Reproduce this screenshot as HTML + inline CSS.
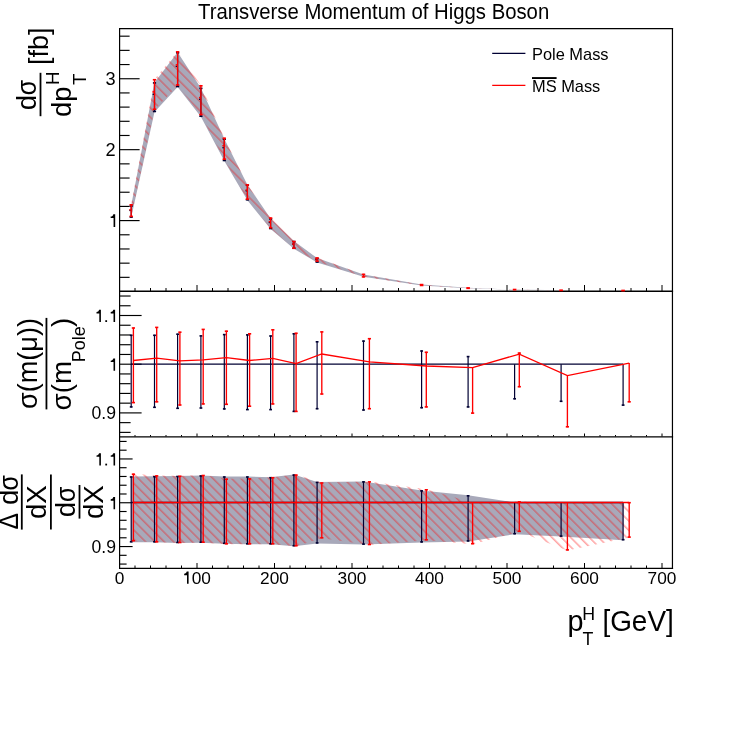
<!DOCTYPE html><html><head><meta charset="utf-8"><style>html,body{margin:0;padding:0;background:#fff;}svg{display:block;will-change:transform;}text{font-family:"Liberation Sans",sans-serif;fill:#000;}</style></head><body>
<svg width="747" height="729" viewBox="0 0 747 729">
<rect width="747" height="729" fill="#fff"/>
<defs><pattern id="hatch" patternUnits="userSpaceOnUse" width="6.6" height="6.6" patternTransform="rotate(-45)"><line x1="3.65" y1="-1" x2="3.65" y2="7.6" stroke="rgba(255,0,0,0.42)" stroke-width="1.3"/></pattern></defs>
<line x1="119.60" y1="28.00" x2="119.60" y2="568.90" stroke="#000" stroke-width="1.2"/>
<line x1="119.00" y1="28.60" x2="673.10" y2="28.60" stroke="#000" stroke-width="1.2"/>
<line x1="672.45" y1="28.00" x2="672.45" y2="568.90" stroke="#000" stroke-width="1.2"/>
<line x1="119.00" y1="291.25" x2="673.10" y2="291.25" stroke="#000" stroke-width="1.3"/>
<line x1="119.00" y1="436.90" x2="673.10" y2="436.90" stroke="#000" stroke-width="1.3"/>
<line x1="119.00" y1="568.30" x2="673.10" y2="568.30" stroke="#000" stroke-width="1.3"/>
<line x1="119.60" y1="277.34" x2="129.60" y2="277.34" stroke="#000" stroke-width="1.15"/>
<line x1="119.60" y1="263.16" x2="129.60" y2="263.16" stroke="#000" stroke-width="1.15"/>
<line x1="119.60" y1="248.97" x2="129.60" y2="248.97" stroke="#000" stroke-width="1.15"/>
<line x1="119.60" y1="234.79" x2="129.60" y2="234.79" stroke="#000" stroke-width="1.15"/>
<line x1="119.60" y1="220.60" x2="139.60" y2="220.60" stroke="#000" stroke-width="1.15"/>
<line x1="119.60" y1="206.41" x2="129.60" y2="206.41" stroke="#000" stroke-width="1.15"/>
<line x1="119.60" y1="192.23" x2="129.60" y2="192.23" stroke="#000" stroke-width="1.15"/>
<line x1="119.60" y1="178.04" x2="129.60" y2="178.04" stroke="#000" stroke-width="1.15"/>
<line x1="119.60" y1="163.86" x2="129.60" y2="163.86" stroke="#000" stroke-width="1.15"/>
<line x1="119.60" y1="149.67" x2="139.60" y2="149.67" stroke="#000" stroke-width="1.15"/>
<line x1="119.60" y1="135.48" x2="129.60" y2="135.48" stroke="#000" stroke-width="1.15"/>
<line x1="119.60" y1="121.30" x2="129.60" y2="121.30" stroke="#000" stroke-width="1.15"/>
<line x1="119.60" y1="107.11" x2="129.60" y2="107.11" stroke="#000" stroke-width="1.15"/>
<line x1="119.60" y1="92.93" x2="129.60" y2="92.93" stroke="#000" stroke-width="1.15"/>
<line x1="119.60" y1="78.74" x2="139.60" y2="78.74" stroke="#000" stroke-width="1.15"/>
<line x1="119.60" y1="64.55" x2="129.60" y2="64.55" stroke="#000" stroke-width="1.15"/>
<line x1="119.60" y1="50.37" x2="129.60" y2="50.37" stroke="#000" stroke-width="1.15"/>
<line x1="119.60" y1="36.18" x2="129.60" y2="36.18" stroke="#000" stroke-width="1.15"/>
<line x1="119.60" y1="432.38" x2="130.60" y2="432.38" stroke="#000" stroke-width="1.15"/>
<line x1="119.60" y1="422.64" x2="130.60" y2="422.64" stroke="#000" stroke-width="1.15"/>
<line x1="119.60" y1="412.90" x2="141.60" y2="412.90" stroke="#000" stroke-width="1.15"/>
<line x1="119.60" y1="403.16" x2="130.60" y2="403.16" stroke="#000" stroke-width="1.15"/>
<line x1="119.60" y1="393.42" x2="130.60" y2="393.42" stroke="#000" stroke-width="1.15"/>
<line x1="119.60" y1="383.68" x2="130.60" y2="383.68" stroke="#000" stroke-width="1.15"/>
<line x1="119.60" y1="373.94" x2="130.60" y2="373.94" stroke="#000" stroke-width="1.15"/>
<line x1="119.60" y1="364.20" x2="141.60" y2="364.20" stroke="#000" stroke-width="1.15"/>
<line x1="119.60" y1="354.46" x2="130.60" y2="354.46" stroke="#000" stroke-width="1.15"/>
<line x1="119.60" y1="344.72" x2="130.60" y2="344.72" stroke="#000" stroke-width="1.15"/>
<line x1="119.60" y1="334.98" x2="130.60" y2="334.98" stroke="#000" stroke-width="1.15"/>
<line x1="119.60" y1="325.24" x2="130.60" y2="325.24" stroke="#000" stroke-width="1.15"/>
<line x1="119.60" y1="315.50" x2="141.60" y2="315.50" stroke="#000" stroke-width="1.15"/>
<line x1="119.60" y1="305.76" x2="130.60" y2="305.76" stroke="#000" stroke-width="1.15"/>
<line x1="119.60" y1="296.02" x2="130.60" y2="296.02" stroke="#000" stroke-width="1.15"/>
<line x1="119.60" y1="564.07" x2="126.60" y2="564.07" stroke="#000" stroke-width="1.15"/>
<line x1="119.60" y1="555.31" x2="126.60" y2="555.31" stroke="#000" stroke-width="1.15"/>
<line x1="119.60" y1="546.55" x2="132.60" y2="546.55" stroke="#000" stroke-width="1.15"/>
<line x1="119.60" y1="537.79" x2="126.60" y2="537.79" stroke="#000" stroke-width="1.15"/>
<line x1="119.60" y1="529.03" x2="126.60" y2="529.03" stroke="#000" stroke-width="1.15"/>
<line x1="119.60" y1="520.27" x2="126.60" y2="520.27" stroke="#000" stroke-width="1.15"/>
<line x1="119.60" y1="511.51" x2="126.60" y2="511.51" stroke="#000" stroke-width="1.15"/>
<line x1="119.60" y1="502.75" x2="132.60" y2="502.75" stroke="#000" stroke-width="1.15"/>
<line x1="119.60" y1="493.99" x2="126.60" y2="493.99" stroke="#000" stroke-width="1.15"/>
<line x1="119.60" y1="485.23" x2="126.60" y2="485.23" stroke="#000" stroke-width="1.15"/>
<line x1="119.60" y1="476.47" x2="126.60" y2="476.47" stroke="#000" stroke-width="1.15"/>
<line x1="119.60" y1="467.71" x2="126.60" y2="467.71" stroke="#000" stroke-width="1.15"/>
<line x1="119.60" y1="458.95" x2="132.60" y2="458.95" stroke="#000" stroke-width="1.15"/>
<line x1="119.60" y1="450.19" x2="126.60" y2="450.19" stroke="#000" stroke-width="1.15"/>
<line x1="119.60" y1="441.43" x2="126.60" y2="441.43" stroke="#000" stroke-width="1.15"/>
<line x1="135.00" y1="291.00" x2="135.00" y2="288.00" stroke="#000" stroke-width="1.0"/>
<line x1="135.00" y1="436.50" x2="135.00" y2="435.00" stroke="#000" stroke-width="1.0"/>
<line x1="135.00" y1="568.00" x2="135.00" y2="565.50" stroke="#000" stroke-width="1.0"/>
<line x1="150.50" y1="291.00" x2="150.50" y2="288.00" stroke="#000" stroke-width="1.0"/>
<line x1="150.50" y1="436.50" x2="150.50" y2="435.00" stroke="#000" stroke-width="1.0"/>
<line x1="150.50" y1="568.00" x2="150.50" y2="565.50" stroke="#000" stroke-width="1.0"/>
<line x1="166.00" y1="291.00" x2="166.00" y2="288.00" stroke="#000" stroke-width="1.0"/>
<line x1="166.00" y1="436.50" x2="166.00" y2="435.00" stroke="#000" stroke-width="1.0"/>
<line x1="166.00" y1="568.00" x2="166.00" y2="565.50" stroke="#000" stroke-width="1.0"/>
<line x1="181.50" y1="291.00" x2="181.50" y2="288.00" stroke="#000" stroke-width="1.0"/>
<line x1="181.50" y1="436.50" x2="181.50" y2="435.00" stroke="#000" stroke-width="1.0"/>
<line x1="181.50" y1="568.00" x2="181.50" y2="565.50" stroke="#000" stroke-width="1.0"/>
<line x1="197.00" y1="291.00" x2="197.00" y2="285.00" stroke="#000" stroke-width="1.0"/>
<line x1="197.00" y1="436.50" x2="197.00" y2="433.50" stroke="#000" stroke-width="1.0"/>
<line x1="197.00" y1="568.00" x2="197.00" y2="563.00" stroke="#000" stroke-width="1.0"/>
<line x1="212.50" y1="291.00" x2="212.50" y2="288.00" stroke="#000" stroke-width="1.0"/>
<line x1="212.50" y1="436.50" x2="212.50" y2="435.00" stroke="#000" stroke-width="1.0"/>
<line x1="212.50" y1="568.00" x2="212.50" y2="565.50" stroke="#000" stroke-width="1.0"/>
<line x1="228.00" y1="291.00" x2="228.00" y2="288.00" stroke="#000" stroke-width="1.0"/>
<line x1="228.00" y1="436.50" x2="228.00" y2="435.00" stroke="#000" stroke-width="1.0"/>
<line x1="228.00" y1="568.00" x2="228.00" y2="565.50" stroke="#000" stroke-width="1.0"/>
<line x1="243.50" y1="291.00" x2="243.50" y2="288.00" stroke="#000" stroke-width="1.0"/>
<line x1="243.50" y1="436.50" x2="243.50" y2="435.00" stroke="#000" stroke-width="1.0"/>
<line x1="243.50" y1="568.00" x2="243.50" y2="565.50" stroke="#000" stroke-width="1.0"/>
<line x1="259.00" y1="291.00" x2="259.00" y2="288.00" stroke="#000" stroke-width="1.0"/>
<line x1="259.00" y1="436.50" x2="259.00" y2="435.00" stroke="#000" stroke-width="1.0"/>
<line x1="259.00" y1="568.00" x2="259.00" y2="565.50" stroke="#000" stroke-width="1.0"/>
<line x1="274.50" y1="291.00" x2="274.50" y2="285.00" stroke="#000" stroke-width="1.0"/>
<line x1="274.50" y1="436.50" x2="274.50" y2="433.50" stroke="#000" stroke-width="1.0"/>
<line x1="274.50" y1="568.00" x2="274.50" y2="563.00" stroke="#000" stroke-width="1.0"/>
<line x1="290.00" y1="291.00" x2="290.00" y2="288.00" stroke="#000" stroke-width="1.0"/>
<line x1="290.00" y1="436.50" x2="290.00" y2="435.00" stroke="#000" stroke-width="1.0"/>
<line x1="290.00" y1="568.00" x2="290.00" y2="565.50" stroke="#000" stroke-width="1.0"/>
<line x1="305.50" y1="291.00" x2="305.50" y2="288.00" stroke="#000" stroke-width="1.0"/>
<line x1="305.50" y1="436.50" x2="305.50" y2="435.00" stroke="#000" stroke-width="1.0"/>
<line x1="305.50" y1="568.00" x2="305.50" y2="565.50" stroke="#000" stroke-width="1.0"/>
<line x1="321.00" y1="291.00" x2="321.00" y2="288.00" stroke="#000" stroke-width="1.0"/>
<line x1="321.00" y1="436.50" x2="321.00" y2="435.00" stroke="#000" stroke-width="1.0"/>
<line x1="321.00" y1="568.00" x2="321.00" y2="565.50" stroke="#000" stroke-width="1.0"/>
<line x1="336.50" y1="291.00" x2="336.50" y2="288.00" stroke="#000" stroke-width="1.0"/>
<line x1="336.50" y1="436.50" x2="336.50" y2="435.00" stroke="#000" stroke-width="1.0"/>
<line x1="336.50" y1="568.00" x2="336.50" y2="565.50" stroke="#000" stroke-width="1.0"/>
<line x1="352.00" y1="291.00" x2="352.00" y2="285.00" stroke="#000" stroke-width="1.0"/>
<line x1="352.00" y1="436.50" x2="352.00" y2="433.50" stroke="#000" stroke-width="1.0"/>
<line x1="352.00" y1="568.00" x2="352.00" y2="563.00" stroke="#000" stroke-width="1.0"/>
<line x1="367.50" y1="291.00" x2="367.50" y2="288.00" stroke="#000" stroke-width="1.0"/>
<line x1="367.50" y1="436.50" x2="367.50" y2="435.00" stroke="#000" stroke-width="1.0"/>
<line x1="367.50" y1="568.00" x2="367.50" y2="565.50" stroke="#000" stroke-width="1.0"/>
<line x1="383.00" y1="291.00" x2="383.00" y2="288.00" stroke="#000" stroke-width="1.0"/>
<line x1="383.00" y1="436.50" x2="383.00" y2="435.00" stroke="#000" stroke-width="1.0"/>
<line x1="383.00" y1="568.00" x2="383.00" y2="565.50" stroke="#000" stroke-width="1.0"/>
<line x1="398.50" y1="291.00" x2="398.50" y2="288.00" stroke="#000" stroke-width="1.0"/>
<line x1="398.50" y1="436.50" x2="398.50" y2="435.00" stroke="#000" stroke-width="1.0"/>
<line x1="398.50" y1="568.00" x2="398.50" y2="565.50" stroke="#000" stroke-width="1.0"/>
<line x1="414.00" y1="291.00" x2="414.00" y2="288.00" stroke="#000" stroke-width="1.0"/>
<line x1="414.00" y1="436.50" x2="414.00" y2="435.00" stroke="#000" stroke-width="1.0"/>
<line x1="414.00" y1="568.00" x2="414.00" y2="565.50" stroke="#000" stroke-width="1.0"/>
<line x1="429.50" y1="291.00" x2="429.50" y2="285.00" stroke="#000" stroke-width="1.0"/>
<line x1="429.50" y1="436.50" x2="429.50" y2="433.50" stroke="#000" stroke-width="1.0"/>
<line x1="429.50" y1="568.00" x2="429.50" y2="563.00" stroke="#000" stroke-width="1.0"/>
<line x1="445.00" y1="291.00" x2="445.00" y2="288.00" stroke="#000" stroke-width="1.0"/>
<line x1="445.00" y1="436.50" x2="445.00" y2="435.00" stroke="#000" stroke-width="1.0"/>
<line x1="445.00" y1="568.00" x2="445.00" y2="565.50" stroke="#000" stroke-width="1.0"/>
<line x1="460.50" y1="291.00" x2="460.50" y2="288.00" stroke="#000" stroke-width="1.0"/>
<line x1="460.50" y1="436.50" x2="460.50" y2="435.00" stroke="#000" stroke-width="1.0"/>
<line x1="460.50" y1="568.00" x2="460.50" y2="565.50" stroke="#000" stroke-width="1.0"/>
<line x1="476.00" y1="291.00" x2="476.00" y2="288.00" stroke="#000" stroke-width="1.0"/>
<line x1="476.00" y1="436.50" x2="476.00" y2="435.00" stroke="#000" stroke-width="1.0"/>
<line x1="476.00" y1="568.00" x2="476.00" y2="565.50" stroke="#000" stroke-width="1.0"/>
<line x1="491.50" y1="291.00" x2="491.50" y2="288.00" stroke="#000" stroke-width="1.0"/>
<line x1="491.50" y1="436.50" x2="491.50" y2="435.00" stroke="#000" stroke-width="1.0"/>
<line x1="491.50" y1="568.00" x2="491.50" y2="565.50" stroke="#000" stroke-width="1.0"/>
<line x1="507.00" y1="291.00" x2="507.00" y2="285.00" stroke="#000" stroke-width="1.0"/>
<line x1="507.00" y1="436.50" x2="507.00" y2="433.50" stroke="#000" stroke-width="1.0"/>
<line x1="507.00" y1="568.00" x2="507.00" y2="563.00" stroke="#000" stroke-width="1.0"/>
<line x1="522.50" y1="291.00" x2="522.50" y2="288.00" stroke="#000" stroke-width="1.0"/>
<line x1="522.50" y1="436.50" x2="522.50" y2="435.00" stroke="#000" stroke-width="1.0"/>
<line x1="522.50" y1="568.00" x2="522.50" y2="565.50" stroke="#000" stroke-width="1.0"/>
<line x1="538.00" y1="291.00" x2="538.00" y2="288.00" stroke="#000" stroke-width="1.0"/>
<line x1="538.00" y1="436.50" x2="538.00" y2="435.00" stroke="#000" stroke-width="1.0"/>
<line x1="538.00" y1="568.00" x2="538.00" y2="565.50" stroke="#000" stroke-width="1.0"/>
<line x1="553.50" y1="291.00" x2="553.50" y2="288.00" stroke="#000" stroke-width="1.0"/>
<line x1="553.50" y1="436.50" x2="553.50" y2="435.00" stroke="#000" stroke-width="1.0"/>
<line x1="553.50" y1="568.00" x2="553.50" y2="565.50" stroke="#000" stroke-width="1.0"/>
<line x1="569.00" y1="291.00" x2="569.00" y2="288.00" stroke="#000" stroke-width="1.0"/>
<line x1="569.00" y1="436.50" x2="569.00" y2="435.00" stroke="#000" stroke-width="1.0"/>
<line x1="569.00" y1="568.00" x2="569.00" y2="565.50" stroke="#000" stroke-width="1.0"/>
<line x1="584.50" y1="291.00" x2="584.50" y2="285.00" stroke="#000" stroke-width="1.0"/>
<line x1="584.50" y1="436.50" x2="584.50" y2="433.50" stroke="#000" stroke-width="1.0"/>
<line x1="584.50" y1="568.00" x2="584.50" y2="563.00" stroke="#000" stroke-width="1.0"/>
<line x1="600.00" y1="291.00" x2="600.00" y2="288.00" stroke="#000" stroke-width="1.0"/>
<line x1="600.00" y1="436.50" x2="600.00" y2="435.00" stroke="#000" stroke-width="1.0"/>
<line x1="600.00" y1="568.00" x2="600.00" y2="565.50" stroke="#000" stroke-width="1.0"/>
<line x1="615.50" y1="291.00" x2="615.50" y2="288.00" stroke="#000" stroke-width="1.0"/>
<line x1="615.50" y1="436.50" x2="615.50" y2="435.00" stroke="#000" stroke-width="1.0"/>
<line x1="615.50" y1="568.00" x2="615.50" y2="565.50" stroke="#000" stroke-width="1.0"/>
<line x1="631.00" y1="291.00" x2="631.00" y2="288.00" stroke="#000" stroke-width="1.0"/>
<line x1="631.00" y1="436.50" x2="631.00" y2="435.00" stroke="#000" stroke-width="1.0"/>
<line x1="631.00" y1="568.00" x2="631.00" y2="565.50" stroke="#000" stroke-width="1.0"/>
<line x1="646.50" y1="291.00" x2="646.50" y2="288.00" stroke="#000" stroke-width="1.0"/>
<line x1="646.50" y1="436.50" x2="646.50" y2="435.00" stroke="#000" stroke-width="1.0"/>
<line x1="646.50" y1="568.00" x2="646.50" y2="565.50" stroke="#000" stroke-width="1.0"/>
<line x1="662.00" y1="291.00" x2="662.00" y2="285.00" stroke="#000" stroke-width="1.0"/>
<line x1="662.00" y1="436.50" x2="662.00" y2="433.50" stroke="#000" stroke-width="1.0"/>
<line x1="662.00" y1="568.00" x2="662.00" y2="563.00" stroke="#000" stroke-width="1.0"/>
<polygon points="131.20,205.50 154.50,82.41 177.60,52.28 200.90,87.88 224.30,138.76 247.40,184.64 270.60,218.43 293.90,241.09 317.10,258.10 363.50,274.51 421.60,284.61 468.10,287.84 514.60,289.60 561.10,290.20 623.10,290.50 623.10,290.59 561.10,290.30 514.60,289.74 468.10,288.22 421.60,285.41 363.50,276.84 317.10,262.55 293.90,248.75 270.60,229.01 247.40,200.29 224.30,161.00 200.90,116.74 177.60,87.00 154.50,111.98 131.20,217.60" fill="#a8a9ba"/>
<polygon points="131.20,204.29 154.50,79.22 177.60,51.35 200.90,85.31 224.30,137.75 247.40,184.41 270.60,217.55 293.90,241.04 317.10,257.45 363.50,274.43 421.60,284.63 468.10,287.93 514.60,289.55 561.10,290.23 623.10,290.50 623.10,290.58 561.10,290.37 514.60,289.69 468.10,288.27 421.60,285.40 363.50,276.80 317.10,261.59 293.90,248.75 270.60,228.20 247.40,199.59 224.30,159.64 200.90,115.12 177.60,85.47 154.50,109.75 131.20,216.88" fill="url(#hatch)"/>
<line x1="131.20" y1="205.50" x2="131.20" y2="217.60" stroke="#000033" stroke-width="1.2"/><line x1="129.60" y1="206.00" x2="132.80" y2="206.00" stroke="#000033" stroke-width="1.6"/><line x1="129.60" y1="217.10" x2="132.80" y2="217.10" stroke="#000033" stroke-width="1.6"/>
<rect x="129.30" y="209.70" width="1.5" height="1.4" fill="#000033"/>
<line x1="154.50" y1="82.41" x2="154.50" y2="111.98" stroke="#000033" stroke-width="1.2"/><line x1="152.90" y1="82.91" x2="156.10" y2="82.91" stroke="#000033" stroke-width="1.6"/><line x1="152.90" y1="111.48" x2="156.10" y2="111.48" stroke="#000033" stroke-width="1.6"/>
<rect x="152.60" y="93.62" width="1.5" height="1.4" fill="#000033"/>
<line x1="177.60" y1="52.28" x2="177.60" y2="87.00" stroke="#000033" stroke-width="1.2"/><line x1="176.00" y1="52.78" x2="179.20" y2="52.78" stroke="#000033" stroke-width="1.6"/><line x1="176.00" y1="86.50" x2="179.20" y2="86.50" stroke="#000033" stroke-width="1.6"/>
<rect x="175.70" y="65.68" width="1.5" height="1.4" fill="#000033"/>
<line x1="200.90" y1="87.88" x2="200.90" y2="116.74" stroke="#000033" stroke-width="1.2"/><line x1="199.30" y1="88.38" x2="202.50" y2="88.38" stroke="#000033" stroke-width="1.6"/><line x1="199.30" y1="116.24" x2="202.50" y2="116.24" stroke="#000033" stroke-width="1.6"/>
<rect x="199.00" y="98.55" width="1.5" height="1.4" fill="#000033"/>
<line x1="224.30" y1="138.76" x2="224.30" y2="161.00" stroke="#000033" stroke-width="1.2"/><line x1="222.70" y1="139.26" x2="225.90" y2="139.26" stroke="#000033" stroke-width="1.6"/><line x1="222.70" y1="160.50" x2="225.90" y2="160.50" stroke="#000033" stroke-width="1.6"/>
<rect x="222.40" y="146.95" width="1.5" height="1.4" fill="#000033"/>
<line x1="247.40" y1="184.64" x2="247.40" y2="200.29" stroke="#000033" stroke-width="1.2"/><line x1="245.80" y1="185.14" x2="249.00" y2="185.14" stroke="#000033" stroke-width="1.6"/><line x1="245.80" y1="199.79" x2="249.00" y2="199.79" stroke="#000033" stroke-width="1.6"/>
<rect x="245.50" y="190.10" width="1.5" height="1.4" fill="#000033"/>
<line x1="270.60" y1="218.43" x2="270.60" y2="229.01" stroke="#000033" stroke-width="1.2"/><line x1="269.00" y1="218.93" x2="272.20" y2="218.93" stroke="#000033" stroke-width="1.6"/><line x1="269.00" y1="228.51" x2="272.20" y2="228.51" stroke="#000033" stroke-width="1.6"/>
<rect x="268.70" y="221.80" width="1.5" height="1.4" fill="#000033"/>
<line x1="293.90" y1="241.09" x2="293.90" y2="248.75" stroke="#000033" stroke-width="1.2"/><line x1="292.30" y1="241.59" x2="295.50" y2="241.59" stroke="#000033" stroke-width="1.6"/><line x1="292.30" y1="248.25" x2="295.50" y2="248.25" stroke="#000033" stroke-width="1.6"/>
<rect x="292.00" y="243.40" width="1.5" height="1.4" fill="#000033"/>
<line x1="317.10" y1="258.10" x2="317.10" y2="262.55" stroke="#000033" stroke-width="1.2"/><line x1="315.50" y1="258.60" x2="318.70" y2="258.60" stroke="#000033" stroke-width="1.6"/><line x1="315.50" y1="262.05" x2="318.70" y2="262.05" stroke="#000033" stroke-width="1.6"/>
<rect x="315.20" y="258.90" width="1.5" height="1.4" fill="#000033"/>
<line x1="131.20" y1="204.29" x2="131.20" y2="216.88" stroke="#ff0000" stroke-width="1.35"/><line x1="129.50" y1="204.79" x2="132.90" y2="204.79" stroke="#ff0000" stroke-width="1.6"/><line x1="129.50" y1="216.38" x2="132.90" y2="216.38" stroke="#ff0000" stroke-width="1.6"/>
<rect x="129.30" y="209.08" width="1.5" height="1.4" fill="#ff0000"/>
<line x1="154.50" y1="79.22" x2="154.50" y2="109.75" stroke="#ff0000" stroke-width="1.35"/><line x1="152.80" y1="79.72" x2="156.20" y2="79.72" stroke="#ff0000" stroke-width="1.6"/><line x1="152.80" y1="109.25" x2="156.20" y2="109.25" stroke="#ff0000" stroke-width="1.6"/>
<rect x="152.60" y="91.15" width="1.5" height="1.4" fill="#ff0000"/>
<line x1="177.60" y1="51.35" x2="177.60" y2="85.47" stroke="#ff0000" stroke-width="1.35"/><line x1="175.90" y1="51.85" x2="179.30" y2="51.85" stroke="#ff0000" stroke-width="1.6"/><line x1="175.90" y1="84.97" x2="179.30" y2="84.97" stroke="#ff0000" stroke-width="1.6"/>
<rect x="175.70" y="64.15" width="1.5" height="1.4" fill="#ff0000"/>
<line x1="200.90" y1="85.31" x2="200.90" y2="115.12" stroke="#ff0000" stroke-width="1.35"/><line x1="199.20" y1="85.81" x2="202.60" y2="85.81" stroke="#ff0000" stroke-width="1.6"/><line x1="199.20" y1="114.62" x2="202.60" y2="114.62" stroke="#ff0000" stroke-width="1.6"/>
<rect x="199.00" y="96.81" width="1.5" height="1.4" fill="#ff0000"/>
<line x1="224.30" y1="137.75" x2="224.30" y2="159.64" stroke="#ff0000" stroke-width="1.35"/><line x1="222.60" y1="138.25" x2="226.00" y2="138.25" stroke="#ff0000" stroke-width="1.6"/><line x1="222.60" y1="159.14" x2="226.00" y2="159.14" stroke="#ff0000" stroke-width="1.6"/>
<rect x="222.40" y="145.03" width="1.5" height="1.4" fill="#ff0000"/>
<line x1="247.40" y1="184.41" x2="247.40" y2="199.59" stroke="#ff0000" stroke-width="1.35"/><line x1="245.70" y1="184.91" x2="249.10" y2="184.91" stroke="#ff0000" stroke-width="1.6"/><line x1="245.70" y1="199.09" x2="249.10" y2="199.09" stroke="#ff0000" stroke-width="1.6"/>
<rect x="245.50" y="189.33" width="1.5" height="1.4" fill="#ff0000"/>
<line x1="270.60" y1="217.55" x2="270.60" y2="228.20" stroke="#ff0000" stroke-width="1.35"/><line x1="268.90" y1="218.05" x2="272.30" y2="218.05" stroke="#ff0000" stroke-width="1.6"/><line x1="268.90" y1="227.70" x2="272.30" y2="227.70" stroke="#ff0000" stroke-width="1.6"/>
<rect x="268.70" y="220.98" width="1.5" height="1.4" fill="#ff0000"/>
<line x1="293.90" y1="241.04" x2="293.90" y2="248.75" stroke="#ff0000" stroke-width="1.35"/><line x1="292.20" y1="241.54" x2="295.60" y2="241.54" stroke="#ff0000" stroke-width="1.6"/><line x1="292.20" y1="248.25" x2="295.60" y2="248.25" stroke="#ff0000" stroke-width="1.6"/>
<rect x="292.00" y="243.34" width="1.5" height="1.4" fill="#ff0000"/>
<line x1="317.10" y1="257.45" x2="317.10" y2="261.59" stroke="#ff0000" stroke-width="1.35"/><line x1="315.40" y1="257.95" x2="318.80" y2="257.95" stroke="#ff0000" stroke-width="1.6"/><line x1="315.40" y1="261.09" x2="318.80" y2="261.09" stroke="#ff0000" stroke-width="1.6"/>
<rect x="315.20" y="258.23" width="1.5" height="1.4" fill="#ff0000"/>
<line x1="363.50" y1="273.83" x2="363.50" y2="277.40" stroke="#ff0000" stroke-width="1.35"/><line x1="361.80" y1="274.33" x2="365.20" y2="274.33" stroke="#ff0000" stroke-width="1.6"/><line x1="361.80" y1="276.90" x2="365.20" y2="276.90" stroke="#ff0000" stroke-width="1.6"/>
<rect x="419.80" y="283.78" width="3.6" height="2.47" fill="#ff0000"/>
<rect x="466.30" y="287.08" width="3.6" height="2.04" fill="#ff0000"/>
<rect x="512.80" y="288.70" width="3.6" height="1.84" fill="#ff0000"/>
<rect x="559.30" y="289.38" width="3.6" height="1.84" fill="#ff0000"/>
<rect x="621.30" y="289.65" width="3.6" height="1.78" fill="#ff0000"/>
<polyline points="131.20,364.20 154.50,364.20 177.60,364.20 200.90,364.20 224.30,364.20 247.40,364.20 270.60,364.20 293.90,364.20 317.10,364.20 363.50,364.20 421.60,364.20 468.10,364.20 514.60,364.20 561.10,364.20 623.10,364.20" fill="none" stroke="#000033" stroke-width="1.3"/>
<line x1="131.20" y1="334.80" x2="131.20" y2="407.40" stroke="#000033" stroke-width="1.2"/><line x1="129.80" y1="335.30" x2="132.60" y2="335.30" stroke="#000033" stroke-width="1.6"/><line x1="129.80" y1="406.90" x2="132.60" y2="406.90" stroke="#000033" stroke-width="1.6"/>
<line x1="154.50" y1="334.80" x2="154.50" y2="407.80" stroke="#000033" stroke-width="1.2"/><line x1="153.10" y1="335.30" x2="155.90" y2="335.30" stroke="#000033" stroke-width="1.6"/><line x1="153.10" y1="407.30" x2="155.90" y2="407.30" stroke="#000033" stroke-width="1.6"/>
<line x1="177.60" y1="333.70" x2="177.60" y2="408.80" stroke="#000033" stroke-width="1.2"/><line x1="176.20" y1="334.20" x2="179.00" y2="334.20" stroke="#000033" stroke-width="1.6"/><line x1="176.20" y1="408.30" x2="179.00" y2="408.30" stroke="#000033" stroke-width="1.6"/>
<line x1="200.90" y1="335.40" x2="200.90" y2="408.50" stroke="#000033" stroke-width="1.2"/><line x1="199.50" y1="335.90" x2="202.30" y2="335.90" stroke="#000033" stroke-width="1.6"/><line x1="199.50" y1="408.00" x2="202.30" y2="408.00" stroke="#000033" stroke-width="1.6"/>
<line x1="224.30" y1="334.10" x2="224.30" y2="409.40" stroke="#000033" stroke-width="1.2"/><line x1="222.90" y1="334.60" x2="225.70" y2="334.60" stroke="#000033" stroke-width="1.6"/><line x1="222.90" y1="408.90" x2="225.70" y2="408.90" stroke="#000033" stroke-width="1.6"/>
<line x1="247.40" y1="334.40" x2="247.40" y2="410.10" stroke="#000033" stroke-width="1.2"/><line x1="246.00" y1="334.90" x2="248.80" y2="334.90" stroke="#000033" stroke-width="1.6"/><line x1="246.00" y1="409.60" x2="248.80" y2="409.60" stroke="#000033" stroke-width="1.6"/>
<line x1="270.60" y1="335.50" x2="270.60" y2="410.10" stroke="#000033" stroke-width="1.2"/><line x1="269.20" y1="336.00" x2="272.00" y2="336.00" stroke="#000033" stroke-width="1.6"/><line x1="269.20" y1="409.60" x2="272.00" y2="409.60" stroke="#000033" stroke-width="1.6"/>
<line x1="293.90" y1="333.30" x2="293.90" y2="411.90" stroke="#000033" stroke-width="1.2"/><line x1="292.50" y1="333.80" x2="295.30" y2="333.80" stroke="#000033" stroke-width="1.6"/><line x1="292.50" y1="411.40" x2="295.30" y2="411.40" stroke="#000033" stroke-width="1.6"/>
<line x1="317.10" y1="341.30" x2="317.10" y2="409.20" stroke="#000033" stroke-width="1.2"/><line x1="315.70" y1="341.80" x2="318.50" y2="341.80" stroke="#000033" stroke-width="1.6"/><line x1="315.70" y1="408.70" x2="318.50" y2="408.70" stroke="#000033" stroke-width="1.6"/>
<line x1="363.50" y1="340.60" x2="363.50" y2="410.50" stroke="#000033" stroke-width="1.2"/><line x1="362.10" y1="341.10" x2="364.90" y2="341.10" stroke="#000033" stroke-width="1.6"/><line x1="362.10" y1="410.00" x2="364.90" y2="410.00" stroke="#000033" stroke-width="1.6"/>
<line x1="421.60" y1="350.50" x2="421.60" y2="408.20" stroke="#000033" stroke-width="1.2"/><line x1="420.20" y1="351.00" x2="423.00" y2="351.00" stroke="#000033" stroke-width="1.6"/><line x1="420.20" y1="407.70" x2="423.00" y2="407.70" stroke="#000033" stroke-width="1.6"/>
<line x1="468.10" y1="356.10" x2="468.10" y2="407.40" stroke="#000033" stroke-width="1.2"/><line x1="466.70" y1="356.60" x2="469.50" y2="356.60" stroke="#000033" stroke-width="1.6"/><line x1="466.70" y1="406.90" x2="469.50" y2="406.90" stroke="#000033" stroke-width="1.6"/>
<line x1="514.60" y1="364.20" x2="514.60" y2="399.30" stroke="#000033" stroke-width="1.2"/><line x1="513.20" y1="398.80" x2="516.00" y2="398.80" stroke="#000033" stroke-width="1.6"/>
<line x1="561.10" y1="364.20" x2="561.10" y2="401.80" stroke="#000033" stroke-width="1.2"/><line x1="559.70" y1="401.30" x2="562.50" y2="401.30" stroke="#000033" stroke-width="1.6"/>
<line x1="623.10" y1="364.20" x2="623.10" y2="405.60" stroke="#000033" stroke-width="1.2"/><line x1="621.70" y1="405.10" x2="624.50" y2="405.10" stroke="#000033" stroke-width="1.6"/>
<polyline points="133.40,360.50 156.70,358.10 179.90,360.90 203.20,359.80 226.40,357.70 249.60,360.50 272.80,358.40 296.10,363.60 321.80,354.00 369.40,361.80 426.30,366.00 472.60,367.60 519.30,354.10 567.40,375.60 629.20,363.10" fill="none" stroke="#ff0000" stroke-width="1.3"/>
<line x1="133.40" y1="327.50" x2="133.40" y2="403.10" stroke="#ff0000" stroke-width="1.35"/><line x1="131.80" y1="328.00" x2="135.00" y2="328.00" stroke="#ff0000" stroke-width="1.6"/><line x1="131.80" y1="402.60" x2="135.00" y2="402.60" stroke="#ff0000" stroke-width="1.6"/>
<line x1="156.70" y1="326.90" x2="156.70" y2="402.30" stroke="#ff0000" stroke-width="1.35"/><line x1="155.10" y1="327.40" x2="158.30" y2="327.40" stroke="#ff0000" stroke-width="1.6"/><line x1="155.10" y1="401.80" x2="158.30" y2="401.80" stroke="#ff0000" stroke-width="1.6"/>
<line x1="179.90" y1="331.70" x2="179.90" y2="405.50" stroke="#ff0000" stroke-width="1.35"/><line x1="178.30" y1="332.20" x2="181.50" y2="332.20" stroke="#ff0000" stroke-width="1.6"/><line x1="178.30" y1="405.00" x2="181.50" y2="405.00" stroke="#ff0000" stroke-width="1.6"/>
<line x1="203.20" y1="328.90" x2="203.20" y2="404.40" stroke="#ff0000" stroke-width="1.35"/><line x1="201.60" y1="329.40" x2="204.80" y2="329.40" stroke="#ff0000" stroke-width="1.6"/><line x1="201.60" y1="403.90" x2="204.80" y2="403.90" stroke="#ff0000" stroke-width="1.6"/>
<line x1="226.40" y1="330.70" x2="226.40" y2="404.80" stroke="#ff0000" stroke-width="1.35"/><line x1="224.80" y1="331.20" x2="228.00" y2="331.20" stroke="#ff0000" stroke-width="1.6"/><line x1="224.80" y1="404.30" x2="228.00" y2="404.30" stroke="#ff0000" stroke-width="1.6"/>
<line x1="249.60" y1="333.30" x2="249.60" y2="406.70" stroke="#ff0000" stroke-width="1.35"/><line x1="248.00" y1="333.80" x2="251.20" y2="333.80" stroke="#ff0000" stroke-width="1.6"/><line x1="248.00" y1="406.20" x2="251.20" y2="406.20" stroke="#ff0000" stroke-width="1.6"/>
<line x1="272.80" y1="329.30" x2="272.80" y2="404.40" stroke="#ff0000" stroke-width="1.35"/><line x1="271.20" y1="329.80" x2="274.40" y2="329.80" stroke="#ff0000" stroke-width="1.6"/><line x1="271.20" y1="403.90" x2="274.40" y2="403.90" stroke="#ff0000" stroke-width="1.6"/>
<line x1="296.10" y1="332.80" x2="296.10" y2="411.90" stroke="#ff0000" stroke-width="1.35"/><line x1="294.50" y1="333.30" x2="297.70" y2="333.30" stroke="#ff0000" stroke-width="1.6"/><line x1="294.50" y1="411.40" x2="297.70" y2="411.40" stroke="#ff0000" stroke-width="1.6"/>
<line x1="321.80" y1="331.40" x2="321.80" y2="394.50" stroke="#ff0000" stroke-width="1.35"/><line x1="320.20" y1="331.90" x2="323.40" y2="331.90" stroke="#ff0000" stroke-width="1.6"/><line x1="320.20" y1="394.00" x2="323.40" y2="394.00" stroke="#ff0000" stroke-width="1.6"/>
<line x1="369.40" y1="338.20" x2="369.40" y2="409.20" stroke="#ff0000" stroke-width="1.35"/><line x1="367.80" y1="338.70" x2="371.00" y2="338.70" stroke="#ff0000" stroke-width="1.6"/><line x1="367.80" y1="408.70" x2="371.00" y2="408.70" stroke="#ff0000" stroke-width="1.6"/>
<line x1="426.30" y1="351.80" x2="426.30" y2="407.40" stroke="#ff0000" stroke-width="1.35"/><line x1="424.70" y1="352.30" x2="427.90" y2="352.30" stroke="#ff0000" stroke-width="1.6"/><line x1="424.70" y1="406.90" x2="427.90" y2="406.90" stroke="#ff0000" stroke-width="1.6"/>
<line x1="472.60" y1="367.60" x2="472.60" y2="413.60" stroke="#ff0000" stroke-width="1.35"/><line x1="471.00" y1="413.10" x2="474.20" y2="413.10" stroke="#ff0000" stroke-width="1.6"/>
<line x1="519.30" y1="352.60" x2="519.30" y2="387.20" stroke="#ff0000" stroke-width="1.35"/><line x1="517.70" y1="353.10" x2="520.90" y2="353.10" stroke="#ff0000" stroke-width="1.6"/><line x1="517.70" y1="386.70" x2="520.90" y2="386.70" stroke="#ff0000" stroke-width="1.6"/>
<line x1="567.40" y1="375.60" x2="567.40" y2="427.30" stroke="#ff0000" stroke-width="1.35"/><line x1="565.80" y1="426.80" x2="569.00" y2="426.80" stroke="#ff0000" stroke-width="1.6"/>
<line x1="629.20" y1="363.10" x2="629.20" y2="402.30" stroke="#ff0000" stroke-width="1.35"/><line x1="627.60" y1="401.80" x2="630.80" y2="401.80" stroke="#ff0000" stroke-width="1.6"/>
<polygon points="131.20,476.50 154.50,476.20 177.60,476.00 200.90,475.50 224.30,476.50 247.40,476.50 270.60,477.20 293.90,474.60 317.10,481.90 363.50,481.40 421.60,490.40 468.10,495.30 514.60,502.50 561.10,502.50 623.10,502.50 623.10,540.20 561.10,536.60 514.60,534.20 468.10,541.40 421.60,542.40 363.50,544.60 317.10,543.40 293.90,546.20 270.60,544.30 247.40,544.30 224.30,543.80 200.90,542.70 177.60,543.00 154.50,542.30 131.20,542.30" fill="#a8a9ba"/>
<polygon points="133.40,473.70 156.70,475.40 179.90,475.80 203.20,475.00 226.40,478.70 249.60,478.40 272.80,477.20 296.10,474.60 321.80,482.50 369.40,481.40 426.30,489.30 472.60,502.50 519.30,501.40 567.40,502.50 629.20,502.20 629.20,537.60 567.40,550.40 519.30,531.80 472.60,544.20 426.30,540.30 369.40,545.00 321.80,538.30 296.10,546.20 272.80,544.30 249.60,544.30 226.40,544.30 203.20,542.70 179.90,543.00 156.70,542.30 133.40,541.20" fill="url(#hatch)"/>
<polyline points="131.20,502.50 154.50,502.50 177.60,502.50 200.90,502.50 224.30,502.50 247.40,502.50 270.60,502.50 293.90,502.50 317.10,502.50 363.50,502.50 421.60,502.50 468.10,502.50 514.60,502.50 561.10,502.50 623.10,502.50" fill="none" stroke="#000033" stroke-width="1.3"/>
<line x1="131.20" y1="476.50" x2="131.20" y2="542.30" stroke="#000033" stroke-width="1.2"/><line x1="129.80" y1="477.00" x2="132.60" y2="477.00" stroke="#000033" stroke-width="1.6"/><line x1="129.80" y1="541.80" x2="132.60" y2="541.80" stroke="#000033" stroke-width="1.6"/>
<line x1="154.50" y1="476.20" x2="154.50" y2="542.30" stroke="#000033" stroke-width="1.2"/><line x1="153.10" y1="476.70" x2="155.90" y2="476.70" stroke="#000033" stroke-width="1.6"/><line x1="153.10" y1="541.80" x2="155.90" y2="541.80" stroke="#000033" stroke-width="1.6"/>
<line x1="177.60" y1="476.00" x2="177.60" y2="543.00" stroke="#000033" stroke-width="1.2"/><line x1="176.20" y1="476.50" x2="179.00" y2="476.50" stroke="#000033" stroke-width="1.6"/><line x1="176.20" y1="542.50" x2="179.00" y2="542.50" stroke="#000033" stroke-width="1.6"/>
<line x1="200.90" y1="475.50" x2="200.90" y2="542.70" stroke="#000033" stroke-width="1.2"/><line x1="199.50" y1="476.00" x2="202.30" y2="476.00" stroke="#000033" stroke-width="1.6"/><line x1="199.50" y1="542.20" x2="202.30" y2="542.20" stroke="#000033" stroke-width="1.6"/>
<line x1="224.30" y1="476.50" x2="224.30" y2="543.80" stroke="#000033" stroke-width="1.2"/><line x1="222.90" y1="477.00" x2="225.70" y2="477.00" stroke="#000033" stroke-width="1.6"/><line x1="222.90" y1="543.30" x2="225.70" y2="543.30" stroke="#000033" stroke-width="1.6"/>
<line x1="247.40" y1="476.50" x2="247.40" y2="544.30" stroke="#000033" stroke-width="1.2"/><line x1="246.00" y1="477.00" x2="248.80" y2="477.00" stroke="#000033" stroke-width="1.6"/><line x1="246.00" y1="543.80" x2="248.80" y2="543.80" stroke="#000033" stroke-width="1.6"/>
<line x1="270.60" y1="477.20" x2="270.60" y2="544.30" stroke="#000033" stroke-width="1.2"/><line x1="269.20" y1="477.70" x2="272.00" y2="477.70" stroke="#000033" stroke-width="1.6"/><line x1="269.20" y1="543.80" x2="272.00" y2="543.80" stroke="#000033" stroke-width="1.6"/>
<line x1="293.90" y1="474.60" x2="293.90" y2="546.20" stroke="#000033" stroke-width="1.2"/><line x1="292.50" y1="475.10" x2="295.30" y2="475.10" stroke="#000033" stroke-width="1.6"/><line x1="292.50" y1="545.70" x2="295.30" y2="545.70" stroke="#000033" stroke-width="1.6"/>
<line x1="317.10" y1="481.90" x2="317.10" y2="543.40" stroke="#000033" stroke-width="1.2"/><line x1="315.70" y1="482.40" x2="318.50" y2="482.40" stroke="#000033" stroke-width="1.6"/><line x1="315.70" y1="542.90" x2="318.50" y2="542.90" stroke="#000033" stroke-width="1.6"/>
<line x1="363.50" y1="481.40" x2="363.50" y2="544.60" stroke="#000033" stroke-width="1.2"/><line x1="362.10" y1="481.90" x2="364.90" y2="481.90" stroke="#000033" stroke-width="1.6"/><line x1="362.10" y1="544.10" x2="364.90" y2="544.10" stroke="#000033" stroke-width="1.6"/>
<line x1="421.60" y1="490.40" x2="421.60" y2="542.40" stroke="#000033" stroke-width="1.2"/><line x1="420.20" y1="490.90" x2="423.00" y2="490.90" stroke="#000033" stroke-width="1.6"/><line x1="420.20" y1="541.90" x2="423.00" y2="541.90" stroke="#000033" stroke-width="1.6"/>
<line x1="468.10" y1="495.30" x2="468.10" y2="541.40" stroke="#000033" stroke-width="1.2"/><line x1="466.70" y1="495.80" x2="469.50" y2="495.80" stroke="#000033" stroke-width="1.6"/><line x1="466.70" y1="540.90" x2="469.50" y2="540.90" stroke="#000033" stroke-width="1.6"/>
<line x1="514.60" y1="502.50" x2="514.60" y2="534.20" stroke="#000033" stroke-width="1.2"/><line x1="513.20" y1="533.70" x2="516.00" y2="533.70" stroke="#000033" stroke-width="1.6"/>
<line x1="561.10" y1="502.50" x2="561.10" y2="536.60" stroke="#000033" stroke-width="1.2"/><line x1="559.70" y1="536.10" x2="562.50" y2="536.10" stroke="#000033" stroke-width="1.6"/>
<line x1="623.10" y1="502.50" x2="623.10" y2="540.20" stroke="#000033" stroke-width="1.2"/><line x1="621.70" y1="539.70" x2="624.50" y2="539.70" stroke="#000033" stroke-width="1.6"/>
<polyline points="133.40,502.50 156.70,502.50 179.90,502.50 203.20,502.50 226.40,502.50 249.60,502.50 272.80,502.50 296.10,502.50 321.80,502.50 369.40,502.50 426.30,502.50 472.60,502.50 519.30,502.50 567.40,502.50 629.20,502.50" fill="none" stroke="#ff0000" stroke-width="1.3"/>
<line x1="133.40" y1="473.70" x2="133.40" y2="541.20" stroke="#ff0000" stroke-width="1.35"/><line x1="131.80" y1="474.20" x2="135.00" y2="474.20" stroke="#ff0000" stroke-width="1.6"/><line x1="131.80" y1="540.70" x2="135.00" y2="540.70" stroke="#ff0000" stroke-width="1.6"/>
<line x1="156.70" y1="475.40" x2="156.70" y2="542.30" stroke="#ff0000" stroke-width="1.35"/><line x1="155.10" y1="475.90" x2="158.30" y2="475.90" stroke="#ff0000" stroke-width="1.6"/><line x1="155.10" y1="541.80" x2="158.30" y2="541.80" stroke="#ff0000" stroke-width="1.6"/>
<line x1="179.90" y1="475.80" x2="179.90" y2="543.00" stroke="#ff0000" stroke-width="1.35"/><line x1="178.30" y1="476.30" x2="181.50" y2="476.30" stroke="#ff0000" stroke-width="1.6"/><line x1="178.30" y1="542.50" x2="181.50" y2="542.50" stroke="#ff0000" stroke-width="1.6"/>
<line x1="203.20" y1="475.00" x2="203.20" y2="542.70" stroke="#ff0000" stroke-width="1.35"/><line x1="201.60" y1="475.50" x2="204.80" y2="475.50" stroke="#ff0000" stroke-width="1.6"/><line x1="201.60" y1="542.20" x2="204.80" y2="542.20" stroke="#ff0000" stroke-width="1.6"/>
<line x1="226.40" y1="478.70" x2="226.40" y2="544.30" stroke="#ff0000" stroke-width="1.35"/><line x1="224.80" y1="479.20" x2="228.00" y2="479.20" stroke="#ff0000" stroke-width="1.6"/><line x1="224.80" y1="543.80" x2="228.00" y2="543.80" stroke="#ff0000" stroke-width="1.6"/>
<line x1="249.60" y1="478.40" x2="249.60" y2="544.30" stroke="#ff0000" stroke-width="1.35"/><line x1="248.00" y1="478.90" x2="251.20" y2="478.90" stroke="#ff0000" stroke-width="1.6"/><line x1="248.00" y1="543.80" x2="251.20" y2="543.80" stroke="#ff0000" stroke-width="1.6"/>
<line x1="272.80" y1="477.20" x2="272.80" y2="544.30" stroke="#ff0000" stroke-width="1.35"/><line x1="271.20" y1="477.70" x2="274.40" y2="477.70" stroke="#ff0000" stroke-width="1.6"/><line x1="271.20" y1="543.80" x2="274.40" y2="543.80" stroke="#ff0000" stroke-width="1.6"/>
<line x1="296.10" y1="474.60" x2="296.10" y2="546.20" stroke="#ff0000" stroke-width="1.35"/><line x1="294.50" y1="475.10" x2="297.70" y2="475.10" stroke="#ff0000" stroke-width="1.6"/><line x1="294.50" y1="545.70" x2="297.70" y2="545.70" stroke="#ff0000" stroke-width="1.6"/>
<line x1="321.80" y1="482.50" x2="321.80" y2="538.30" stroke="#ff0000" stroke-width="1.35"/><line x1="320.20" y1="483.00" x2="323.40" y2="483.00" stroke="#ff0000" stroke-width="1.6"/><line x1="320.20" y1="537.80" x2="323.40" y2="537.80" stroke="#ff0000" stroke-width="1.6"/>
<line x1="369.40" y1="481.40" x2="369.40" y2="545.00" stroke="#ff0000" stroke-width="1.35"/><line x1="367.80" y1="481.90" x2="371.00" y2="481.90" stroke="#ff0000" stroke-width="1.6"/><line x1="367.80" y1="544.50" x2="371.00" y2="544.50" stroke="#ff0000" stroke-width="1.6"/>
<line x1="426.30" y1="489.30" x2="426.30" y2="540.30" stroke="#ff0000" stroke-width="1.35"/><line x1="424.70" y1="489.80" x2="427.90" y2="489.80" stroke="#ff0000" stroke-width="1.6"/><line x1="424.70" y1="539.80" x2="427.90" y2="539.80" stroke="#ff0000" stroke-width="1.6"/>
<line x1="472.60" y1="502.50" x2="472.60" y2="544.20" stroke="#ff0000" stroke-width="1.35"/><line x1="471.00" y1="543.70" x2="474.20" y2="543.70" stroke="#ff0000" stroke-width="1.6"/>
<line x1="519.30" y1="501.40" x2="519.30" y2="531.80" stroke="#ff0000" stroke-width="1.35"/><line x1="517.70" y1="501.90" x2="520.90" y2="501.90" stroke="#ff0000" stroke-width="1.6"/><line x1="517.70" y1="531.30" x2="520.90" y2="531.30" stroke="#ff0000" stroke-width="1.6"/>
<line x1="567.40" y1="502.50" x2="567.40" y2="550.40" stroke="#ff0000" stroke-width="1.35"/><line x1="565.80" y1="549.90" x2="569.00" y2="549.90" stroke="#ff0000" stroke-width="1.6"/>
<line x1="629.20" y1="502.20" x2="629.20" y2="537.60" stroke="#ff0000" stroke-width="1.35"/><line x1="627.60" y1="502.70" x2="630.80" y2="502.70" stroke="#ff0000" stroke-width="1.6"/><line x1="627.60" y1="537.10" x2="630.80" y2="537.10" stroke="#ff0000" stroke-width="1.6"/>
<path d="M115.20,214.20 L115.20,226.90 L113.57,226.90 L113.57,218.02 L110.67,218.02 L110.67,216.60 L111.65,216.42 L112.71,215.71 L113.33,214.20 Z" fill="#000"/>
<text x="115.60" y="156.17" font-size="18.2" text-anchor="end" >2</text>
<text x="115.60" y="85.24" font-size="18.2" text-anchor="end" >3</text>
<path d="M115.10,309.70 L115.10,322.00 L113.52,322.00 L113.52,313.40 L110.71,313.40 L110.71,312.02 L111.66,311.85 L112.69,311.16 L113.29,309.70 Z" fill="#000"/>
<rect x="105.30" y="320.21" width="1.78" height="1.78" fill="#000"/>
<path d="M100.90,309.70 L100.90,322.00 L99.32,322.00 L99.32,313.40 L96.51,313.40 L96.51,312.02 L97.46,311.85 L98.49,311.16 L99.09,309.70 Z" fill="#000"/>
<path d="M115.10,358.40 L115.10,370.70 L113.52,370.70 L113.52,362.10 L110.71,362.10 L110.71,360.72 L111.66,360.55 L112.69,359.86 L113.29,358.40 Z" fill="#000"/>
<text x="116.00" y="419.05" font-size="17.6" text-anchor="end" >0.9</text>
<path d="M115.10,453.15 L115.10,465.45 L113.52,465.45 L113.52,456.85 L110.71,456.85 L110.71,455.47 L111.66,455.30 L112.69,454.61 L113.29,453.15 Z" fill="#000"/>
<rect x="105.30" y="463.66" width="1.78" height="1.78" fill="#000"/>
<path d="M100.90,453.15 L100.90,465.45 L99.32,465.45 L99.32,456.85 L96.51,456.85 L96.51,455.47 L97.46,455.30 L98.49,454.61 L99.09,453.15 Z" fill="#000"/>
<path d="M115.10,496.95 L115.10,509.25 L113.52,509.25 L113.52,500.65 L110.71,500.65 L110.71,499.27 L111.66,499.10 L112.69,498.41 L113.29,496.95 Z" fill="#000"/>
<text x="116.00" y="552.70" font-size="17.6" text-anchor="end" >0.9</text>
<text x="119.50" y="583.80" font-size="17.3" text-anchor="middle" >0</text>
<path d="M188.60,571.40 L188.60,583.80 L187.00,583.80 L187.00,575.13 L184.18,575.13 L184.18,573.74 L185.13,573.57 L186.17,572.87 L186.78,571.40 Z" fill="#000"/>
<text x="210.9" y="583.8" font-size="17.3" text-anchor="end">00</text>
<text x="274.50" y="583.80" font-size="17.3" text-anchor="middle" >200</text>
<text x="352.00" y="583.80" font-size="17.3" text-anchor="middle" >300</text>
<text x="429.50" y="583.80" font-size="17.3" text-anchor="middle" >400</text>
<text x="507.00" y="583.80" font-size="17.3" text-anchor="middle" >500</text>
<text x="584.50" y="583.80" font-size="17.3" text-anchor="middle" >600</text>
<text x="662.00" y="583.80" font-size="17.3" text-anchor="middle" >700</text>
<text x="198.0" y="19.1" font-size="21.3" textLength="351.2" lengthAdjust="spacingAndGlyphs">Transverse Momentum of Higgs Boson</text>
<line x1="492.20" y1="53.40" x2="525.40" y2="53.40" stroke="#000033" stroke-width="1.2"/>
<line x1="492.20" y1="85.45" x2="525.40" y2="85.45" stroke="#ff0000" stroke-width="1.2"/>
<text x="532.00" y="59.70" font-size="16.4" text-anchor="start" >Pole Mass</text>
<text x="532.00" y="92.40" font-size="16.4" text-anchor="start" >MS Mass</text>
<line x1="532.00" y1="78.05" x2="556.60" y2="78.05" stroke="#000" stroke-width="1.9"/>
<text x="567.5" y="630.6" font-size="28.8">p</text>
<text x="582.2" y="619.6" font-size="17.8">H</text>
<text x="582.4" y="644.6" font-size="17.8">T</text>
<text x="602.4" y="630.6" font-size="28.8" textLength="71.4" lengthAdjust="spacingAndGlyphs">[GeV]</text>
<text transform="translate(36.00,110.30) rotate(-90)" font-size="27.7">d</text>
<text transform="translate(36.00,95.20) rotate(-90)" font-size="27.7" textLength="15.4" lengthAdjust="spacingAndGlyphs">σ</text>
<line x1="40.50" y1="72.80" x2="40.50" y2="116.20" stroke="#000" stroke-width="1.8"/>
<text transform="translate(70.50,116.90) rotate(-90)" font-size="27.7" textLength="30.5" lengthAdjust="spacingAndGlyphs">dp</text>
<text transform="translate(58.70,85.00) rotate(-90)" font-size="18.7">H</text>
<text transform="translate(85.50,85.10) rotate(-90)" font-size="18.7">T</text>
<text transform="translate(48.30,64.90) rotate(-90)" font-size="27.7" textLength="37.5" lengthAdjust="spacingAndGlyphs">[fb]</text>
<text transform="translate(36.70,409.00) rotate(-90)" font-size="27.7" textLength="91.0" lengthAdjust="spacingAndGlyphs">σ(m(μ))</text>
<line x1="46.45" y1="317.90" x2="46.45" y2="409.40" stroke="#000" stroke-width="1.8"/>
<text transform="translate(70.50,410.40) rotate(-90)" font-size="27.7">σ(m</text>
<text transform="translate(84.90,362.20) rotate(-90)" font-size="18.7" textLength="36.0" lengthAdjust="spacingAndGlyphs">Pole</text>
<text transform="translate(70.50,327.00) rotate(-90)" font-size="27.7">)</text>
<text transform="translate(17.50,529.50) rotate(-90)" font-size="27.7" textLength="16.5" lengthAdjust="spacingAndGlyphs">Δ</text>
<text transform="translate(17.50,505.00) rotate(-90)" font-size="27.7">d</text>
<text transform="translate(17.50,490.40) rotate(-90)" font-size="27.7" textLength="15.4" lengthAdjust="spacingAndGlyphs">σ</text>
<line x1="21.80" y1="474.40" x2="21.80" y2="529.60" stroke="#000" stroke-width="1.8"/>
<text transform="translate(46.20,519.10) rotate(-90)" font-size="27.7">dX</text>
<line x1="50.90" y1="474.40" x2="50.90" y2="529.60" stroke="#000" stroke-width="1.8"/>
<text transform="translate(74.90,517.30) rotate(-90)" font-size="27.7">d</text>
<text transform="translate(74.90,502.00) rotate(-90)" font-size="27.7" textLength="15.4" lengthAdjust="spacingAndGlyphs">σ</text>
<line x1="79.50" y1="485.00" x2="79.50" y2="518.60" stroke="#000" stroke-width="1.8"/>
<text transform="translate(103.40,519.10) rotate(-90)" font-size="27.7">dX</text>
</svg></body></html>
